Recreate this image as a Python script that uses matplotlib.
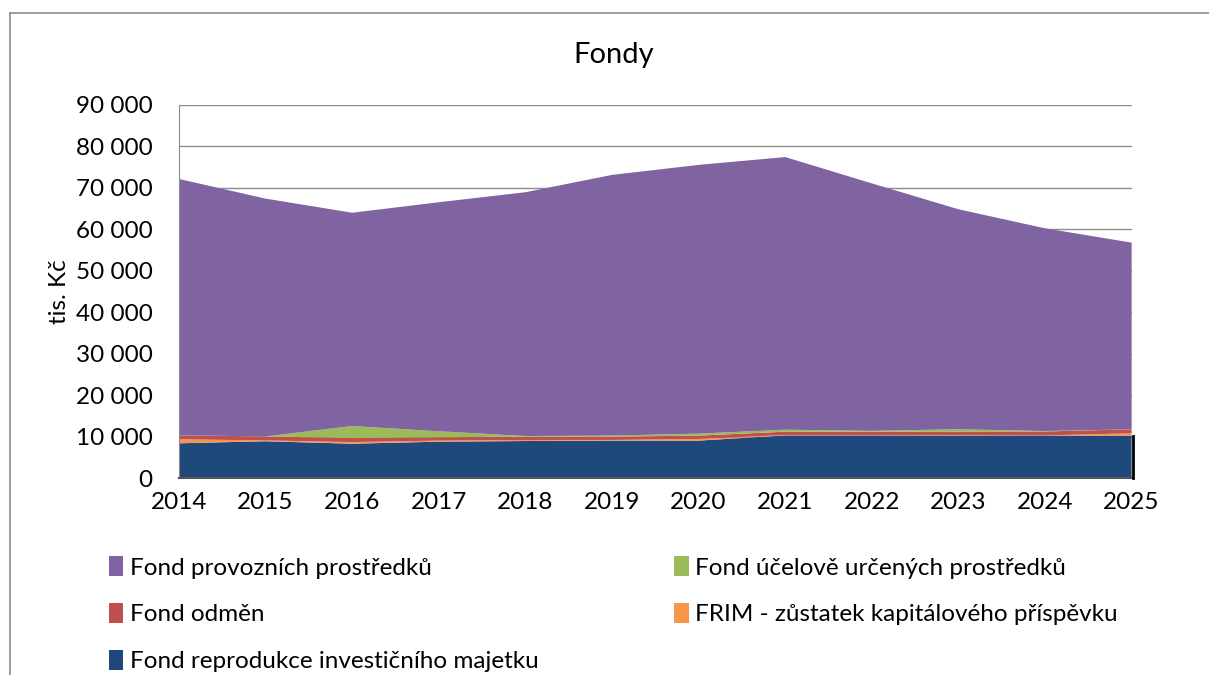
import numpy as np
import matplotlib.pyplot as plt
from matplotlib.patches import Patch
from matplotlib.ticker import FuncFormatter

plt.rcParams["font.family"] = ["Lato", "DejaVu Sans"]

YEARS = [2014, 2015, 2016, 2017, 2018, 2019, 2020, 2021, 2022, 2023, 2024, 2025]

# stack order bottom -> top (tis. Kč)
FRIM_REPRODUKCE = [8400, 8900, 8300, 8800, 8950, 9050, 9050, 10300, 10300, 10250, 10250, 10250]
FRIM_KAPITAL    = [960, 200, 400, 250, 250, 160, 400, 100, 100, 100, 50, 560]
FOND_ODMEN      = [960, 960, 960, 800, 800, 800, 800, 800, 800, 880, 960, 960]
FOND_UCELOVE    = [0, 0, 2900, 1450, 150, 250, 480, 480, 200, 560, 100, 0]
FOND_PROVOZNI   = [61770, 57300, 51390, 55180, 58740, 62810, 64750, 65690, 59630, 53000, 48840, 44980]

LABELS = [
    "Fond reprodukce investičního majetku",
    "FRIM - zůstatek kapitálového příspěvku",
    "Fond odměn",
    "Fond účelově určených prostředků",
    "Fond provozních prostředků",
]
COLORS = ["#1F497D", "#F79646", "#C0504D", "#9BBB59", "#8064A2"]

fig = plt.figure(figsize=(12.09, 6.75), dpi=100)
ax = fig.add_axes([0.148, 0.2916, 0.788, 0.5534])

x = np.arange(len(YEARS))
series = [FRIM_REPRODUKCE, FRIM_KAPITAL, FOND_ODMEN, FOND_UCELOVE, FOND_PROVOZNI]
ax.stackplot(x, *series, colors=COLORS, linewidth=0, zorder=2)

# small dark shadow on the right edge of the bottom area
ax.plot([x[-1] + 0.015, x[-1] + 0.015], [0, FRIM_REPRODUKCE[-1]], color="black", lw=2,
        zorder=3, clip_on=False)

ax.set_xlim(0, len(YEARS) - 1)
ax.set_ylim(0, 90000)
ax.set_yticks(np.arange(0, 90001, 10000))
ax.yaxis.set_major_formatter(FuncFormatter(lambda v, p: f"{int(v):,}".replace(",", " ")))
ax.set_xticks(x)
ax.set_xticklabels([str(y) for y in YEARS])
ax.tick_params(axis="both", labelsize=17.5, length=0, colors="black")
ax.tick_params(axis="x", pad=10)
ax.tick_params(axis="y", pad=19)
ax.grid(axis="y", color="#8C8C8C", lw=1, zorder=1)
ax.set_axisbelow(True)
for s in ["top", "right"]:
    ax.spines[s].set_visible(False)
ax.spines["left"].set_color("#8C8C8C")
ax.spines["bottom"].set_color("#555555")
ax.spines["bottom"].set_linewidth(1.5)
ax.set_ylabel("tis. Kč", fontsize=17.5, labelpad=4)

fig.text(0.508, 0.918, "Fondy", ha="center", va="center", fontsize=21)

# outer chart border (cropped at right/bottom)
fig.add_artist(plt.Line2D([0.008, 1.0], [0.981, 0.981], color="#8C8C8C", lw=1.2))
fig.add_artist(plt.Line2D([0.008, 0.008], [0.0, 0.981], color="#8C8C8C", lw=1.2))

# legend: purple, red, blue in first column; green, orange in second
order = [4, 2, 0, 3, 1]
handles = [Patch(facecolor=COLORS[i], edgecolor="none") for i in order]
fig.legend(handles, [LABELS[i] for i in order], loc="upper left",
           bbox_to_anchor=(0.082, 0.19), ncol=2, frameon=False, fontsize=17.5,
           handlelength=0.6, handleheight=0.85, handletextpad=0.25,
           columnspacing=5.6, labelspacing=1.02, borderaxespad=0)

fig.savefig("out.png", dpi=100)
